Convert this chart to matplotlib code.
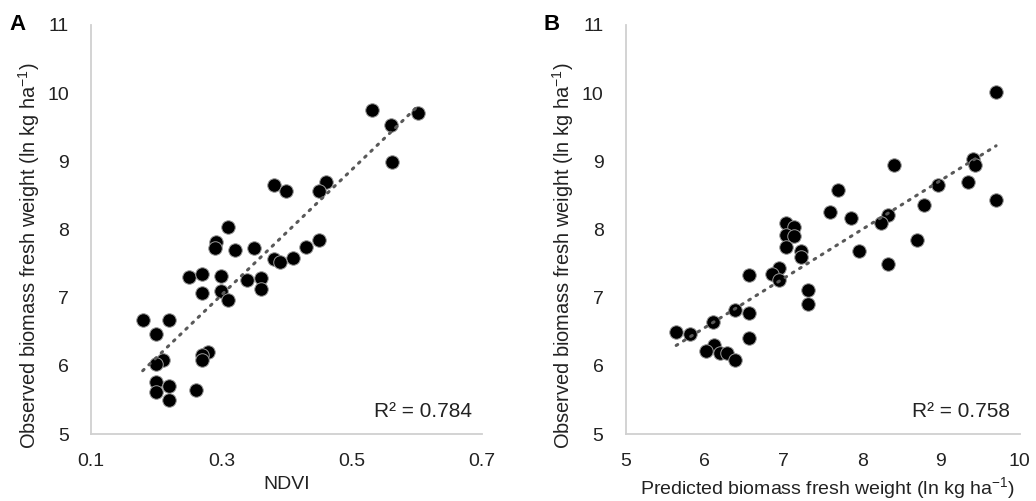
import numpy as np
import matplotlib
matplotlib.use("Agg")
import matplotlib.pyplot as plt

plt.rcParams["font.family"] = ["Liberation Sans", "DejaVu Sans"]
plt.rcParams["mathtext.default"] = "regular"

# Panel A: NDVI vs observed biomass
ndvi = [0.531, 0.602, 0.561, 0.562, 0.380, 0.399, 0.461, 0.450, 0.310, 0.291,
        0.290, 0.321, 0.350, 0.450, 0.430, 0.410, 0.380, 0.390, 0.250, 0.270,
        0.300, 0.339, 0.361, 0.361, 0.270, 0.300, 0.310, 0.179, 0.220, 0.199,
        0.280, 0.270, 0.270, 0.210, 0.199, 0.199, 0.220, 0.199, 0.261, 0.220]
obs_a = [9.76, 9.71, 9.53, 8.99, 8.65, 8.57, 8.70, 8.56, 8.03, 7.81,
         7.73, 7.70, 7.73, 7.84, 7.74, 7.58, 7.57, 7.52, 7.31, 7.35,
         7.32, 7.26, 7.29, 7.13, 7.07, 7.10, 6.96, 6.67, 6.67, 6.46,
         6.20, 6.16, 6.09, 6.08, 6.03, 5.76, 5.70, 5.61, 5.65, 5.50]
r2_a = "R² = 0.784"

# Panel B: predicted vs observed biomass
pred = [9.70, 9.41, 9.43, 8.41, 8.96, 9.34, 9.70, 7.69, 7.59, 7.86,
        8.79, 8.33, 8.24, 8.69, 8.33, 7.96, 7.03, 7.13, 7.03, 7.13,
        7.03, 7.22, 7.22, 7.31, 7.31, 6.95, 6.85, 6.95, 6.57, 6.57,
        6.39, 6.57, 6.11, 5.64, 5.82, 6.12, 6.02, 6.20, 6.29, 6.39]
obs_b = [10.02, 9.04, 8.94, 8.94, 8.66, 8.70, 8.43, 8.58, 8.25, 8.17,
         8.36, 8.21, 8.10, 7.84, 7.49, 7.69, 8.10, 8.03, 7.92, 7.91,
         7.75, 7.69, 7.60, 7.11, 6.91, 7.43, 7.34, 7.26, 7.33, 6.78,
         6.82, 6.41, 6.64, 6.49, 6.46, 6.31, 6.22, 6.19, 6.19, 6.08]
r2_b = "R² = 0.758"

ylab = "Observed biomass fresh weight (ln kg ha$^{-1}$)"

fig = plt.figure(figsize=(10.36, 5.01), dpi=100)
ax_a = fig.add_axes([0.0881, 0.1337, 0.377, 0.8164])
ax_b = fig.add_axes([0.604, 0.1337, 0.3803, 0.8164])


def draw(ax, x, y, r2, xlim, xticks, xlabel, letter, xlab_x, xlab_y):
    x = np.array(x)
    y = np.array(y)
    m, b = np.polyfit(x, y, 1)
    xs = np.array([x.min(), x.max()])
    ax.plot(xs, m * xs + b, color="#595959", lw=2.2, linestyle=(0, (0.6, 2.2)),
            dash_capstyle="round", zorder=3)
    ax.scatter(x, y, s=95, color="black", edgecolors="#9a9a9a", linewidths=0.7,
               zorder=2)
    ax.set_xlim(xlim)
    ax.set_ylim(5, 11)
    ax.set_xticks(xticks)
    ax.set_yticks(range(5, 12))
    for s in ["top", "right"]:
        ax.spines[s].set_visible(False)
    for s in ["left", "bottom"]:
        ax.spines[s].set_color("#d0d0d0")
        ax.spines[s].set_linewidth(1.3)
    ax.tick_params(length=0, labelsize=14, colors="#222222", pad=14)
    ax.tick_params(axis="y", pad=16)
    ax.set_ylabel(ylab, fontsize=14.4, color="#222222")
    ax.yaxis.set_label_coords(-0.126, 0.435)
    ax.set_xlabel(xlabel, fontsize=14, color="#222222")
    ax.xaxis.set_label_coords(xlab_x, xlab_y)
    ax.text(0.975, 0.055, r2, transform=ax.transAxes, ha="right", va="center",
            fontsize=15, color="#222222")
    ax.text(-0.188, 1.0, letter, transform=ax.transAxes, ha="center", va="center",
            fontsize=16, fontweight="bold", color="black")


draw(ax_a, ndvi, obs_a, r2_a, (0.1, 0.7), [0.1, 0.3, 0.5, 0.7], "NDVI", "A",
     0.5, -0.103)
draw(ax_b, pred, obs_b, r2_b, (5, 10), range(5, 11),
     "Predicted biomass fresh weight (ln kg ha$^{-1}$)", "B", 0.512, -0.1)
ax_a.set_xticklabels(["0.1", "0.3", "0.5", "0.7"])

fig.savefig("out.png", dpi=100)
